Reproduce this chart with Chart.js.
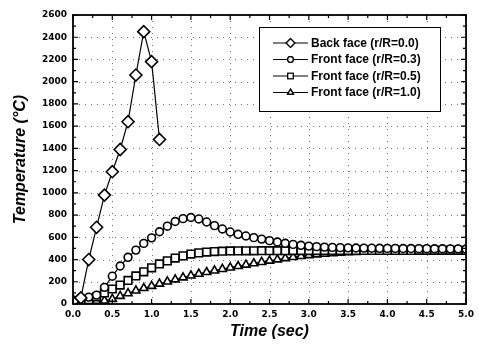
<!DOCTYPE html>
<html lang="en">
<head>
<meta charset="UTF-8">
<title>Temperature vs Time</title>
<script src="https://cdn.jsdelivr.net/npm/chart.js@4"></script>
<style>
  html, body { margin: 0; padding: 0; background: #fff; }
</style>
</head>
<body>
<canvas id="myChart" width="479" height="348"></canvas>
<script>
// time axis (sec)
const times = [0.0, 0.1, 0.2, 0.3, 0.4, 0.5, 0.6, 0.7, 0.8, 0.9,
               1.0, 1.1, 1.2, 1.3, 1.4, 1.5, 1.6, 1.7, 1.8, 1.9,
               2.0, 2.1, 2.2, 2.3, 2.4, 2.5, 2.6, 2.7, 2.8, 2.9,
               3.0, 3.1, 3.2, 3.3, 3.4, 3.5, 3.6, 3.7, 3.8, 3.9,
               4.0, 4.1, 4.2, 4.3, 4.4, 4.5, 4.6, 4.7, 4.8, 4.9, 5.0];

// temperatures (deg C)
const backFace = [25, 55, 400, 690, 980, 1190, 1390, 1640, 2060, 2450, 2180, 1480];

const front03 = [25, 55, 62, 80, 150, 250, 342, 420, 485, 545,
                 595, 650, 700, 742, 768, 778, 765, 738, 705, 675,
                 648, 627, 612, 597, 584, 570, 558, 546, 536, 528,
                 521, 516, 512, 509, 507, 505, 504, 503, 502, 501,
                 500, 500, 499, 499, 498, 498, 497, 497, 496, 496, 495];

const front05 = [25, 28, 38, 65, 100, 135, 170, 212, 252, 290,
                 326, 360, 388, 413, 433, 449, 460, 467, 472, 475,
                 477, 478, 479, 479, 480, 480, 480, 480, 481, 481,
                 481, 481, 481, 481, 481, 482, 482, 482, 482, 482,
                 482, 482, 482, 482, 483, 483, 483, 483, 483, 483, 483];

const front10 = [25, 25, 25, 27, 30, 45, 72, 96, 120, 142,
                 162, 182, 201, 220, 238, 255, 271, 286, 300, 314,
                 327, 340, 353, 365, 377, 389, 400, 411, 421, 430,
                 438, 445, 451, 456, 460, 464, 467, 470, 472, 474,
                 476, 477, 478, 479, 480, 481, 482, 483, 484, 485, 486];

const seriesLabels = ['Back face (r/R=0.0)', 'Front face (r/R=0.3)',
                      'Front face (r/R=0.5)', 'Front face (r/R=1.0)'];

const toPoints = (vals) => vals.map((v, i) => ({x: times[i], y: v}));

function series(label, vals, style, radius) {
  return {
    label: label,
    data: toPoints(vals),
    borderColor: '#000',
    borderWidth: 1.2,
    pointStyle: style,
    pointRadius: radius,
    pointBorderWidth: 1.6,
    pointBorderColor: '#000',
    pointBackgroundColor: '#fff',
    tension: 0,
    legendRadius: radius * 0.72
  };
}

// dotted grid drawn from the scale ticks
const dotGrid = {
  id: 'dotGrid',
  beforeDatasetsDraw(chart) {
    const {ctx, chartArea: a, scales: {x, y}} = chart;
    ctx.save();
    ctx.strokeStyle = 'rgba(0,0,0,0.55)';
    ctx.lineWidth = 1;
    ctx.setLineDash([1, 5]);
    ctx.beginPath();
    x.ticks.forEach(t => {
      const px = Math.round(x.getPixelForValue(t.value)) + 0.5;
      if (px > a.left + 2 && px < a.right - 2) { ctx.moveTo(px, a.top); ctx.lineTo(px, a.bottom); }
    });
    y.ticks.forEach(t => {
      const py = Math.round(y.getPixelForValue(t.value)) + 0.5;
      if (py > a.top + 2 && py < a.bottom - 2) { ctx.moveTo(a.left, py); ctx.lineTo(a.right, py); }
    });
    ctx.stroke();
    ctx.restore();
  }
};

// inward ticks + frame, like the original plot
const frameTicks = {
  id: 'frameTicks',
  afterDatasetsDraw(chart) {
    const {ctx, chartArea: a, scales: {x, y}} = chart;
    ctx.save();
    ctx.strokeStyle = '#000';
    ctx.lineWidth = 1.2;
    ctx.beginPath();
    const xt = x.ticks.map(t => t.value);
    xt.forEach((v, i) => {
      const px = x.getPixelForValue(v);
      ctx.moveTo(px, a.bottom); ctx.lineTo(px, a.bottom - 5);
      ctx.moveTo(px, a.top); ctx.lineTo(px, a.top + 5);
      if (i < xt.length - 1) {
        const m = x.getPixelForValue((v + xt[i + 1]) / 2);
        ctx.moveTo(m, a.bottom); ctx.lineTo(m, a.bottom - 3);
        ctx.moveTo(m, a.top); ctx.lineTo(m, a.top + 3);
      }
    });
    const yt = y.ticks.map(t => t.value);
    yt.forEach((v, i) => {
      const py = y.getPixelForValue(v);
      ctx.moveTo(a.left, py); ctx.lineTo(a.left + 5, py);
      ctx.moveTo(a.right, py); ctx.lineTo(a.right - 5, py);
      if (i < yt.length - 1) {
        const m = y.getPixelForValue((v + yt[i + 1]) / 2);
        ctx.moveTo(a.left, m); ctx.lineTo(a.left + 3, m);
        ctx.moveTo(a.right, m); ctx.lineTo(a.right - 3, m);
      }
    });
    ctx.stroke();
    ctx.lineWidth = 1.8;
    ctx.strokeRect(a.left, a.top, a.right - a.left, a.bottom - a.top);
    ctx.restore();
  }
};

// boxed legend inside the plot (top right)
const boxLegend = {
  id: 'boxLegend',
  afterDraw(chart) {
    const ctx = chart.ctx;
    const bx = 259, by = 27, bw = 181, bh = 84;
    ctx.save();
    ctx.fillStyle = '#fff';
    ctx.fillRect(bx, by, bw, bh);
    ctx.strokeStyle = '#000';
    ctx.lineWidth = 1;
    ctx.strokeRect(bx + 0.5, by + 0.5, bw, bh);
    ctx.font = 'bold 12px "Liberation Sans", Arial, sans-serif';
    ctx.textBaseline = 'middle';
    ctx.fillStyle = '#000';
    chart.data.datasets.forEach((ds, i) => {
      const cy = by + 16 + i * 16.5;
      ctx.beginPath();
      ctx.moveTo(273, cy); ctx.lineTo(308, cy);
      ctx.lineWidth = 1.2;
      ctx.stroke();
      Chart.helpers.drawPoint(ctx, {
        pointStyle: ds.pointStyle,
        radius: ds.legendRadius,
        borderWidth: 1.3
      }, 290.5, cy);
      ctx.fillStyle = '#fff';
      ctx.fill();
      ctx.stroke();
      ctx.fillStyle = '#000';
      ctx.fillText(ds.label, 311, cy + 0.5);
    });
    ctx.restore();
  }
};

const tickFont = {family: '"DejaVu Sans", sans-serif', size: 9, weight: 'bold'};
const titleFont = {family: '"Liberation Sans", Arial, sans-serif', size: 16, weight: 'bold', style: 'italic'};

new Chart(document.getElementById('myChart'), {
  type: 'line',
  data: {
    datasets: [
      series(seriesLabels[0], backFace, 'rectRot', 6),
      series(seriesLabels[1], front03, 'circle', 3.9),
      series(seriesLabels[2], front05, 'rect', 5.4),
      series(seriesLabels[3], front10, 'triangle', 4.7)
    ]
  },
  options: {
    responsive: false,
    animation: false,
    layout: {padding: {top: 15, right: 11, left: 0, bottom: 0}},
    plugins: {legend: {display: false}, tooltip: {enabled: false}},
    scales: {
      x: {
        type: 'linear',
        min: 0, max: 5,
        grid: {display: false, drawTicks: false},
        border: {display: false},
        ticks: {stepSize: 0.5, color: '#000', font: tickFont, padding: 5,
                maxRotation: 0, callback: v => v.toFixed(1)},
        title: {display: true, text: 'Time (sec)', color: '#000', font: titleFont,
                padding: {top: 0, bottom: 7}},
        afterFit: s => { s.height = 44; }
      },
      y: {
        min: 0, max: 2600,
        grid: {display: false, drawTicks: false},
        border: {display: false},
        ticks: {stepSize: 200, color: '#000', font: tickFont, padding: 6,
                callback: v => String(v)},
        title: {display: true, text: 'Temperature (\u00B0C)', color: '#000', font: titleFont,
                padding: {top: 11, bottom: 0}},
        afterFit: s => { s.width = 73; }
      }
    }
  },
  plugins: [dotGrid, frameTicks, boxLegend]
});
</script>
</body>
</html>
